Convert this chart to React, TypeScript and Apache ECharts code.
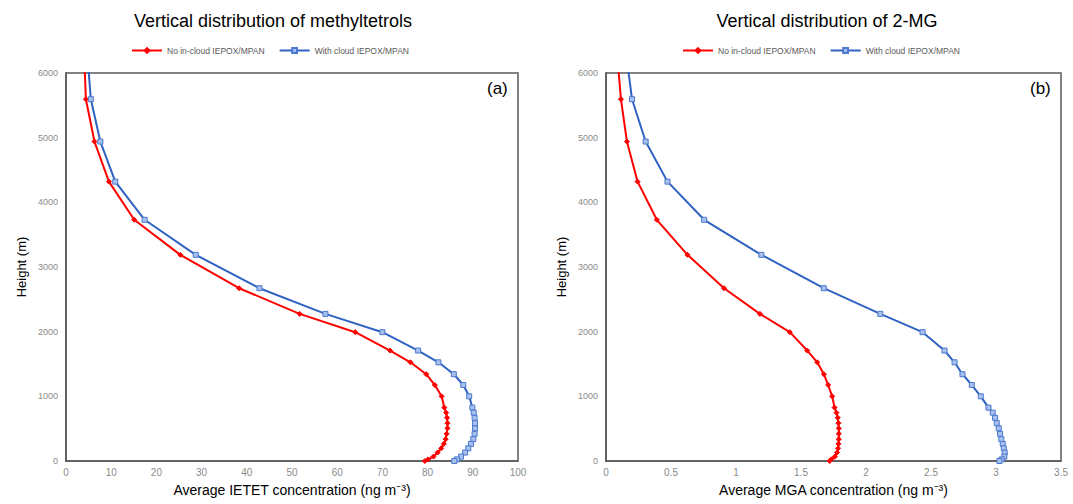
import React, { useEffect, useRef } from "react";
import * as echarts from "echarts";

// Heights (m) of model levels
const heights = [6300, 5595, 4940, 4320, 3730, 3188, 2672, 2275, 1992, 1708, 1526, 1342, 1175, 1000, 826, 747, 668, 585, 505, 420, 338, 265, 196, 130, 68, 25, 0];

// Panel (a): methyltetrols (IETET), ng m-3
const ietetNoCloud = [4.0, 4.4, 6.3, 9.5, 15.1, 25.3, 38.3, 51.7, 64.0, 71.7, 76.2, 79.7, 81.6, 83.1, 83.7, 84.1, 84.3, 84.4, 84.4, 84.2, 84.0, 83.6, 83.0, 82.2, 81.3, 80.1, 79.4];
const ietetWithCloud = [4.7, 5.5, 7.6, 10.9, 17.4, 28.7, 42.8, 57.4, 70.0, 77.9, 82.4, 85.8, 87.9, 89.2, 89.9, 90.2, 90.4, 90.5, 90.5, 90.4, 90.1, 89.6, 89.0, 88.3, 87.4, 86.5, 85.9];

// Panel (b): 2-MG (MGA), ng m-3
const mgaNoCloud = [0.085, 0.115, 0.161, 0.243, 0.391, 0.627, 0.908, 1.184, 1.414, 1.548, 1.625, 1.676, 1.709, 1.74, 1.758, 1.773, 1.783, 1.788, 1.791, 1.791, 1.791, 1.788, 1.785, 1.778, 1.76, 1.732, 1.721];
const mgaWithCloud = [0.155, 0.2, 0.305, 0.473, 0.755, 1.195, 1.675, 2.11, 2.435, 2.604, 2.681, 2.742, 2.814, 2.883, 2.942, 2.975, 2.993, 3.006, 3.021, 3.031, 3.041, 3.052, 3.06, 3.067, 3.064, 3.044, 3.026];

const seriesNames = ["No in-cloud IEPOX/MPAN", "With cloud IEPOX/MPAN"];
const titles = ["Vertical distribution of methyltetrols", "Vertical distribution of 2-MG"];
const xNames = ["Average IETET concentration (ng m⁻³)", "Average MGA concentration (ng m⁻³)"];
const panelLabels = ["(a)", "(b)"];

const RED = "#ff0000";
const BLUE = "#2f62c2";
const FONT = "Liberation Sans, Arial, sans-serif";

function pairs(xs: number[]) {
  return xs.map((v, i) => [v, heights[i]]);
}

export default function App() {
  const ref = useRef<HTMLDivElement>(null);
  useEffect(() => {
    if (!ref.current) return;
    const chart = echarts.init(ref.current, undefined, { renderer: "svg" });
    const grids = [
      { left: 66, top: 73, width: 452, height: 388 },
      { left: 606, top: 73, width: 455, height: 388 },
    ];
    const yAxisCommon = {
      type: "value",
      min: 0,
      max: 6000,
      interval: 1000,
      name: "Height (m)",
      nameLocation: "middle",
      nameGap: 38,
      nameTextStyle: { fontSize: 13, color: "#000", fontFamily: FONT },
      axisLine: { show: true, lineStyle: { color: "#595959", width: 1.5 } },
      axisTick: { show: false },
      splitLine: { show: false },
      axisLabel: { fontSize: 9, color: "#8a8a8a", fontFamily: FONT, margin: 8, formatter: (v: number) => String(v) },
    };
    const xAxisCommon = {
      type: "value",
      nameLocation: "middle",
      nameGap: 22,
      nameTextStyle: { fontSize: 14, color: "#000", fontFamily: FONT },
      axisLine: { show: true, lineStyle: { color: "#595959", width: 1.5 } },
      axisTick: { show: false },
      splitLine: { show: false },
      axisLabel: { fontSize: 10, color: "#8a8a8a", fontFamily: FONT, margin: 6, formatter: (v: number) => String(v) },
    };
    const mkSeries = (name: string, xs: number[], idx: number, red: boolean) => ({
      name,
      type: "line",
      xAxisIndex: idx,
      yAxisIndex: idx,
      data: pairs(xs),
      clip: true,
      symbol: red ? "diamond" : "rect",
      symbolSize: red ? 5 : 5,
      showSymbol: true,
      lineStyle: { color: red ? RED : BLUE, width: 2 },
      itemStyle: red
        ? { color: RED, borderColor: RED, borderWidth: 1 }
        : { color: "#a8c0ec", borderColor: "#4a78cf", borderWidth: 1 },
      emphasis: { disabled: true },
    });
    const legendCommon = {
      top: 41,
      itemWidth: 30,
      itemHeight: 6,
      itemGap: 14,
      textStyle: { fontSize: 8.5, color: "#595959", fontFamily: FONT },
      data: seriesNames,
      selectedMode: false,
    };
    chart.setOption({
      animation: false,
      backgroundColor: "#fff",
      title: [
        { text: titles[0], left: 268, top: 7, textAlign: "center", textStyle: { fontSize: 18, fontWeight: "normal", color: "#000", fontFamily: FONT } },
        { text: titles[1], left: 822, top: 7, textAlign: "center", textStyle: { fontSize: 18, fontWeight: "normal", color: "#000", fontFamily: FONT } },
      ],
      legend: [
        { ...legendCommon, left: 126 },
        { ...legendCommon, left: 677 },
      ],
      grid: grids.map((g) => ({ ...g, show: true, borderColor: "#595959", borderWidth: 1.5, backgroundColor: "transparent" })),
      xAxis: [
        { ...xAxisCommon, gridIndex: 0, min: 0, max: 100, interval: 10, name: xNames[0] },
        { ...xAxisCommon, gridIndex: 1, min: 0, max: 3.5, interval: 0.5, name: xNames[1] },
      ],
      yAxis: [
        { ...yAxisCommon, gridIndex: 0 },
        { ...yAxisCommon, gridIndex: 1 },
      ],
      series: [
        mkSeries(seriesNames[0], ietetNoCloud, 0, true),
        mkSeries(seriesNames[1], ietetWithCloud, 0, false),
        mkSeries(seriesNames[0], mgaNoCloud, 1, true),
        mkSeries(seriesNames[1], mgaWithCloud, 1, false),
      ],
      graphic: [
        { type: "text", left: 487, top: 80, style: { text: panelLabels[0], fontSize: 17, fill: "#000", fontFamily: FONT } },
        { type: "text", left: 1030, top: 80, style: { text: panelLabels[1], fontSize: 17, fill: "#000", fontFamily: FONT } },
      ],
    });
    return () => chart.dispose();
  }, []);
  return (
    <div
      ref={ref}
      style={{ position: "fixed", left: 0, top: 0, width: 1073, height: 504, background: "#fff" }}
    />
  );
}
